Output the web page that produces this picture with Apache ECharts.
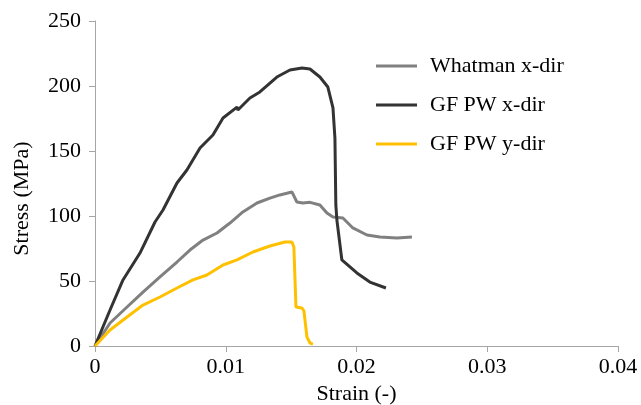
<!DOCTYPE html>
<html>
<head>
<meta charset="utf-8">
<script src="https://cdn.jsdelivr.net/npm/echarts@6/dist/echarts.min.js"></script>
<style>
  html, body { margin: 0; padding: 0; background: #fff; }
  #chart { width: 641px; height: 405px; }
</style>
</head>
<body>
<div id="chart"></div>
<script>
// Whatman x-dir
const whatmanStrain = [0, 0.00115, 0.00245, 0.00367, 0.00497, 0.00627, 0.00726, 0.00826, 0.00933, 0.01032, 0.01131, 0.01239, 0.01338, 0.01414, 0.01506, 0.01544, 0.0159, 0.01644, 0.0172, 0.01774, 0.0182, 0.01896, 0.01972, 0.0208, 0.02179, 0.02309, 0.02424];
const whatmanStress = [0, 17.7, 30, 41.5, 53.1, 64.6, 73.8, 81.5, 86.9, 94.6, 103.1, 110, 113.8, 116.2, 118.5, 110.8, 110, 110.5, 108.5, 102.3, 99.2, 98.5, 90.8, 85.4, 83.8, 83.1, 83.8];

// GF PW x-dir
const gfxStrain = [0, 0.00115, 0.00214, 0.00344, 0.00459, 0.0052, 0.00627, 0.00703, 0.00803, 0.00902, 0.00979, 0.01086, 0.01093, 0.01185, 0.01261, 0.01391, 0.01491, 0.01583, 0.01644, 0.0172, 0.01781, 0.0182, 0.01835, 0.01842, 0.0185, 0.01888, 0.02003, 0.02102, 0.02225];
const gfxStress = [0, 27.7, 50.8, 71.5, 95.4, 104.6, 125.4, 135.4, 152.3, 162.3, 175.4, 183.8, 181.5, 190.8, 195.4, 206.9, 212.3, 213.8, 213.1, 206.9, 199.2, 183.1, 160, 108.5, 96.9, 66.2, 56.2, 49.2, 44.6];

// GF PW y-dir
const gfyStrain = [0, 0.00115, 0.00245, 0.00367, 0.00497, 0.00627, 0.00749, 0.00856, 0.00979, 0.01086, 0.01208, 0.01338, 0.01453, 0.01506, 0.01521, 0.01537, 0.01583, 0.01598, 0.01621, 0.01644, 0.01667];
const gfyStress = [0, 12.3, 22.3, 31.5, 37.7, 44.6, 50.8, 54.6, 62.3, 66.2, 72.3, 76.9, 80, 80, 76.2, 30, 29.2, 26.9, 6.9, 2.3, 1.5];

const xTicks = [0, 0.01, 0.02, 0.03, 0.04];
const yTicks = [0, 50, 100, 150, 200, 250];

function pairs(xs, ys) {
  return xs.map((x, i) => [x, ys[i]]);
}

const font = 'Liberation Serif';
const axisColor = '#a6a6a6';

const myChart = echarts.init(document.getElementById('chart'));
const chartOption = {
  animation: false,
  color: ['#808080', '#333333', '#ffc000'],
  grid: {
    left: 95,
    right: 23,
    top: 21,
    bottom: 59,
    outerBoundsMode: 'none'
  },
  legend: {
    orient: 'vertical',
    left: 371,
    top: 50,
    icon: 'rect',
    itemWidth: 41,
    itemHeight: 3,
    itemGap: 17,
    textStyle: {
      fontFamily: font,
      fontSize: 22,
      color: '#000',
      padding: [0, 0, 0, 8]
    },
    data: ['Whatman x-dir', 'GF PW x-dir', 'GF PW y-dir']
  },
  xAxis: {
    type: 'value',
    min: xTicks[0],
    max: xTicks[xTicks.length - 1],
    interval: 0.01,
    name: 'Strain (-)',
    nameLocation: 'middle',
    nameGap: 36,
    nameTextStyle: { fontFamily: font, fontSize: 22, color: '#000' },
    axisLine: { show: true, lineStyle: { color: axisColor, width: 1 } },
    axisTick: { show: true, length: 6, lineStyle: { color: axisColor } },
    axisLabel: {
      margin: 10,
      fontFamily: font,
      fontSize: 22,
      color: '#000',
      formatter: (v) => String(v)
    },
    splitLine: { show: false }
  },
  yAxis: {
    type: 'value',
    min: yTicks[0],
    max: yTicks[yTicks.length - 1],
    interval: 50,
    name: 'Stress (MPa)',
    nameLocation: 'middle',
    nameGap: 62,
    nameTextStyle: {
      fontFamily: font,
      fontSize: 22,
      color: '#000',
      padding: [0, 30, 0, 0]
    },
    axisLine: { show: true, lineStyle: { color: axisColor, width: 1 } },
    axisTick: { show: true, length: 6, lineStyle: { color: axisColor } },
    axisLabel: {
      margin: 14,
      fontFamily: font,
      fontSize: 22,
      color: '#000'
    },
    splitLine: { show: false }
  },
  series: [{
    name: 'Whatman x-dir',
    type: 'line',
    data: pairs(whatmanStrain, whatmanStress),
    showSymbol: false,
    lineStyle: { width: 3, color: '#808080' }
  }, {
    name: 'GF PW x-dir',
    type: 'line',
    data: pairs(gfxStrain, gfxStress),
    showSymbol: false,
    lineStyle: { width: 3, color: '#333333' }
  }, {
    name: 'GF PW y-dir',
    type: 'line',
    data: pairs(gfyStrain, gfyStress),
    showSymbol: false,
    lineStyle: { width: 3, color: '#ffc000' }
  }]
};
myChart.setOption(chartOption);
</script>
</body>
</html>
